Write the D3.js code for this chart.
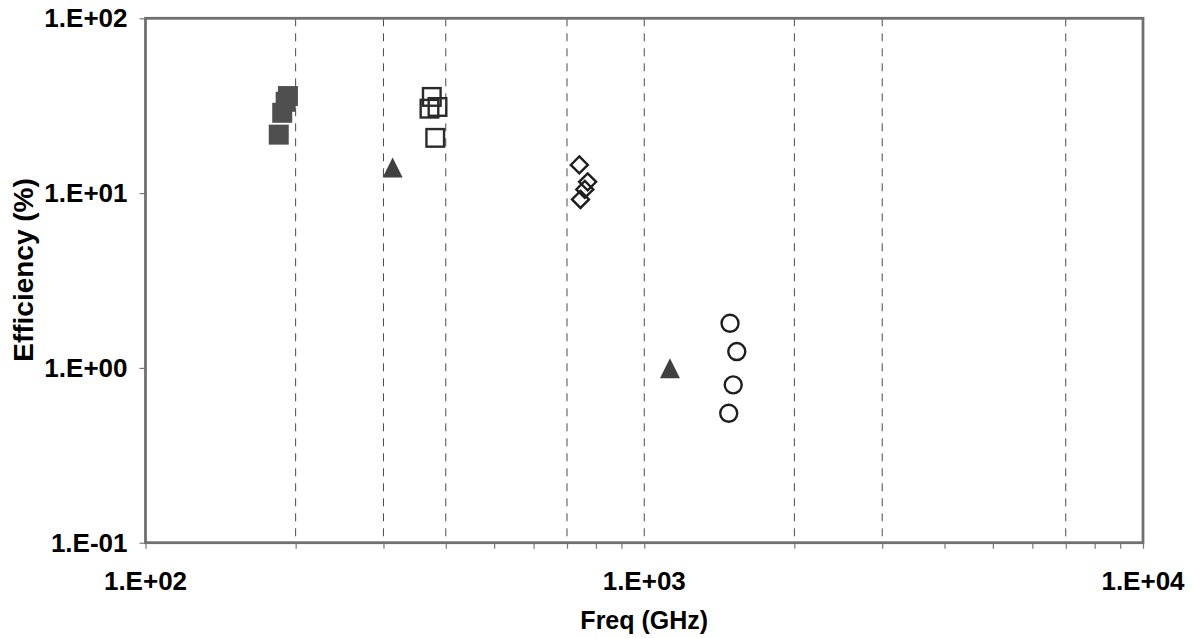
<!DOCTYPE html>
<html>
<head>
<meta charset="utf-8">
<script src="https://cdn.jsdelivr.net/npm/d3@7"></script>
<style>
  body { margin: 0; background: #fff; }
  text { font-family: "Liberation Sans", Arial, sans-serif; font-weight: bold; fill: #000; }
</style>
</head>
<body>
<svg id="chart" width="1195" height="638"></svg>
<script>
// values (freq in GHz, efficiency in %)
const filledSquareFreq = [193, 191, 188, 185];
const filledSquareEff = [35.9, 33.3, 28.8, 21.6];
const openSquareFreq = [375, 371, 385, 381];
const openSquareEff = [35.5, 30.4, 31.1, 20.7];
const triangleFreq = [313, 1126];
const triangleEff = [14.0, 0.995];
const diamondFreq = [741, 770, 760, 745];
const diamondEff = [14.5, 11.6, 10.5, 9.2];
const circleFreq = [1486, 1533, 1508, 1477];
const circleEff = [1.80, 1.24, 0.80, 0.55];

const gridFreqs = [200, 300, 400, 700, 1000, 2000, 3000, 7000];
const xTickLabels = ['1.E+02', '1.E+03', '1.E+04'];
const yTickLabels = ['1.E-01', '1.E+00', '1.E+01', '1.E+02'];
const xTitle = 'Freq (GHz)';
const yTitle = 'Efficiency (%)';

const margin = { top: 18.3, right: 52, bottom: 95.3, left: 145.5 };
const WIDTH = 1195;
const HEIGHT = 638;

const svg = d3.select('#chart');

const x = d3.scaleLog()
  .domain([100, 10000])
  .range([margin.left, WIDTH - margin.right]);

const y = d3.scaleLog()
  .domain([0.1, 100])
  .range([HEIGHT - margin.bottom, margin.top]);

const zip = (a, b) => a.map((v, i) => ({ f: v, e: b[i] }));

// dashed vertical gridlines
svg.append('g')
  .selectAll('line')
  .data(gridFreqs)
  .join('line')
  .attr('x1', d => x(d))
  .attr('x2', d => x(d))
  .attr('y1', y(100))
  .attr('y2', y(0.1))
  .attr('stroke', '#4a4a4a')
  .attr('stroke-width', 1)
  .attr('stroke-dasharray', '8,7');

// x axis: minor ticks everywhere, labels only on decades
const xAxis = d3.axisBottom(x)
  .tickValues(x.ticks())
  .tickSize(6)
  .tickSizeOuter(0)
  .tickFormat(() => '');

const gx = svg.append('g')
  .attr('transform', `translate(0,${y(0.1)})`)
  .call(xAxis);

const yAxis = d3.axisLeft(y)
  .tickValues([0.1, 1, 10, 100])
  .tickSize(6)
  .tickSizeOuter(0)
  .tickFormat(() => '');

const gy = svg.append('g')
  .attr('transform', `translate(${x(100)},0)`)
  .call(yAxis);

[gx, gy].forEach(g => {
  g.select('.domain').remove();
  g.selectAll('.tick line').attr('stroke', '#777').attr('stroke-width', 1.2);
});

// plot area frame (grey, thick)
svg.append('rect')
  .attr('x', x(100))
  .attr('y', y(100))
  .attr('width', x(10000) - x(100))
  .attr('height', y(0.1) - y(100))
  .attr('fill', 'none')
  .attr('stroke', '#707070')
  .attr('stroke-width', 2.8);

// tick labels
svg.append('g')
  .selectAll('text')
  .data([100, 1000, 10000])
  .join('text')
  .attr('x', d => x(d))
  .attr('y', y(0.1) + 47)
  .attr('text-anchor', 'middle')
  .attr('font-size', 26)
  .text((d, i) => xTickLabels[i]);

svg.append('g')
  .selectAll('text')
  .data([0.1, 1, 10, 100])
  .join('text')
  .attr('x', x(100) - 18)
  .attr('y', d => y(d) + 9)
  .attr('text-anchor', 'end')
  .attr('font-size', 26)
  .text((d, i) => yTickLabels[i]);

// axis titles
svg.append('text')
  .attr('x', x(1000))
  .attr('y', 629)
  .attr('text-anchor', 'middle')
  .attr('font-size', 25)
  .text(xTitle);

svg.append('text')
  .attr('transform', 'translate(33,270) rotate(-90)')
  .attr('text-anchor', 'middle')
  .attr('font-size', 28)
  .text(yTitle);

// markers
const marks = svg.append('g');
const pos = d => `translate(${x(d.f)},${y(d.e)})`;

marks.selectAll('.fsq')
  .data(zip(filledSquareFreq, filledSquareEff))
  .join('rect')
  .attr('class', 'fsq')
  .attr('transform', pos)
  .attr('x', -10).attr('y', -10).attr('width', 20).attr('height', 20)
  .attr('fill', '#4f4f4f');

marks.selectAll('.osq')
  .data(zip(openSquareFreq, openSquareEff))
  .join('rect')
  .attr('class', 'osq')
  .attr('transform', pos)
  .attr('x', -8.8).attr('y', -8.8).attr('width', 17.6).attr('height', 17.6)
  .attr('fill', 'none')
  .attr('stroke', '#2b2b2b')
  .attr('stroke-width', 2.4);

marks.selectAll('.tri')
  .data(zip(triangleFreq, triangleEff))
  .join('path')
  .attr('class', 'tri')
  .attr('transform', pos)
  .attr('d', 'M0,-10L10,10L-10,10Z')
  .attr('fill', '#404040');

marks.selectAll('.dia')
  .data(zip(diamondFreq, diamondEff))
  .join('path')
  .attr('class', 'dia')
  .attr('transform', pos)
  .attr('d', 'M0,-8.5L8.5,0L0,8.5L-8.5,0Z')
  .attr('fill', 'none')
  .attr('stroke', '#1e1e1e')
  .attr('stroke-width', 2.4);

marks.selectAll('.circ')
  .data(zip(circleFreq, circleEff))
  .join('circle')
  .attr('class', 'circ')
  .attr('transform', pos)
  .attr('r', 8.5)
  .attr('fill', 'none')
  .attr('stroke', '#1e1e1e')
  .attr('stroke-width', 2.4);
</script>
</body>
</html>
